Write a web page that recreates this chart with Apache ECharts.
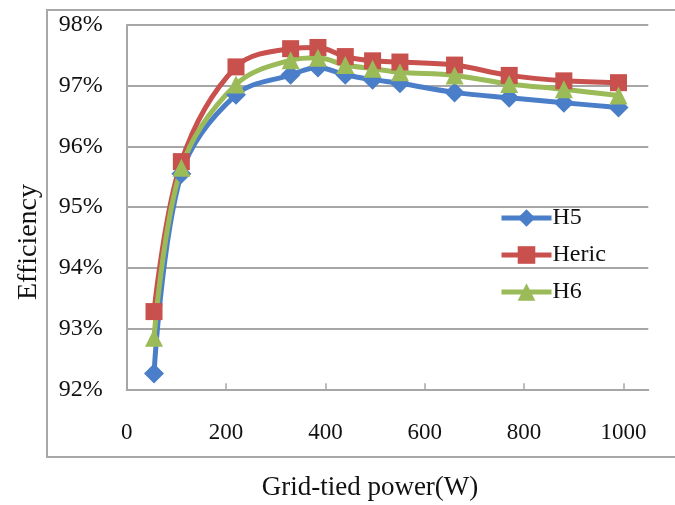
<!DOCTYPE html>
<html>
<head>
<meta charset="utf-8">
<script src="https://cdn.jsdelivr.net/npm/echarts@6/dist/echarts.min.js"></script>
<style>html,body{margin:0;padding:0;background:#fff;}#c{width:675px;height:505px;}</style>
</head>
<body>
<div id="c"></div>
<script>
const power = [55, 110, 220, 330, 385, 440, 495, 550, 660, 770, 880, 990];
const h5 = [92.26, 95.55, 96.85, 97.18, 97.3, 97.18, 97.1, 97.04, 96.89, 96.8, 96.72, 96.64];
const heric = [93.28, 95.75, 97.31, 97.61, 97.63, 97.48, 97.41, 97.39, 97.34, 97.17, 97.08, 97.05];
const h6 = [92.85, 95.65, 97.02, 97.42, 97.46, 97.34, 97.28, 97.22, 97.17, 97.03, 96.94, 96.84];
const xTicks = [0, 200, 400, 600, 800, 1000];
const yTicks = [92, 93, 94, 95, 96, 97, 98];

const FONT = '"Liberation Serif", "Times New Roman", serif';
const zip = (xs, ys) => xs.map((x, i) => [x, ys[i]]);

const chart = echarts.init(document.getElementById('c'), null, {renderer: 'canvas'});
const mk = (name, data, color, symbol, size) => ({
  name, type: 'line', data: zip(power, data), smooth: 0.35,
  symbol, symbolSize: size, showSymbol: true,
  lineStyle: {color, width: 5}, itemStyle: {color},
  emphasis: {disabled: true}, animation: false
});
chart.setOption({
  animation: false,
  backgroundColor: '#fff',
  grid: {left: 126.7, right: 26.7, top: 25, bottom: 115.7, containLabel: false},
  graphic: [{
    type: 'rect', shape: {x: 47, y: 10, width: 700, height: 447},
    style: {fill: 'none', stroke: '#a8a8a8', lineWidth: 2}, silent: true, z: -1
  }, {
    type: 'text', x: 370, y: 488,
    style: {text: 'Grid-tied power(W)', font: '27px ' + FONT, fill: '#111', align: 'center', verticalAlign: 'middle'},
    silent: true
  }, {
    type: 'text', x: 29, y: 242, rotation: Math.PI / 2,
    style: {text: 'Efficiency', font: '28px ' + FONT, fill: '#111', align: 'center', verticalAlign: 'middle'},
    silent: true
  }],
  legend: {
    orient: 'vertical', left: 494, top: 201, itemGap: 13,
    itemWidth: 50, itemHeight: 22,
    lineStyle: {width: 5},
    textStyle: {fontFamily: FONT, fontSize: 24, color: '#111', padding: [0, 0, 0, -4]},
    data: ['H5', 'Heric', 'H6']
  },
  xAxis: {
    type: 'value', min: 0, max: 1050, interval: 200,
    axisLine: {show: true, lineStyle: {color: '#a6a6a6', width: 2}},
    axisTick: {show: true, inside: true, length: 6, customValues: [200, 400, 600, 800, 1000], lineStyle: {color: '#a6a6a6', width: 1.5}},
    axisLabel: {customValues: xTicks, formatter: v => String(v), margin: 32, fontFamily: FONT, fontSize: 23, color: '#111'},
    splitLine: {show: false}
  },
  yAxis: {
    type: 'value', min: 92, max: 98, interval: 1,
    axisLine: {show: true, lineStyle: {color: '#a6a6a6', width: 2}},
    axisTick: {show: false},
    axisLabel: {customValues: yTicks, formatter: v => Math.round(v) + '%', margin: 24, fontFamily: FONT, fontSize: 24, color: '#111'},
    splitLine: {show: true, lineStyle: {color: '#a6a6a6', width: 2}}
  },
  series: [
    mk('H5', h5, '#4A7EC8', 'diamond', 20),
    mk('Heric', heric, '#C8504D', 'rect', 17),
    mk('H6', h6, '#9BBB59', 'triangle', 18)
  ]
});
</script>
</body>
</html>
